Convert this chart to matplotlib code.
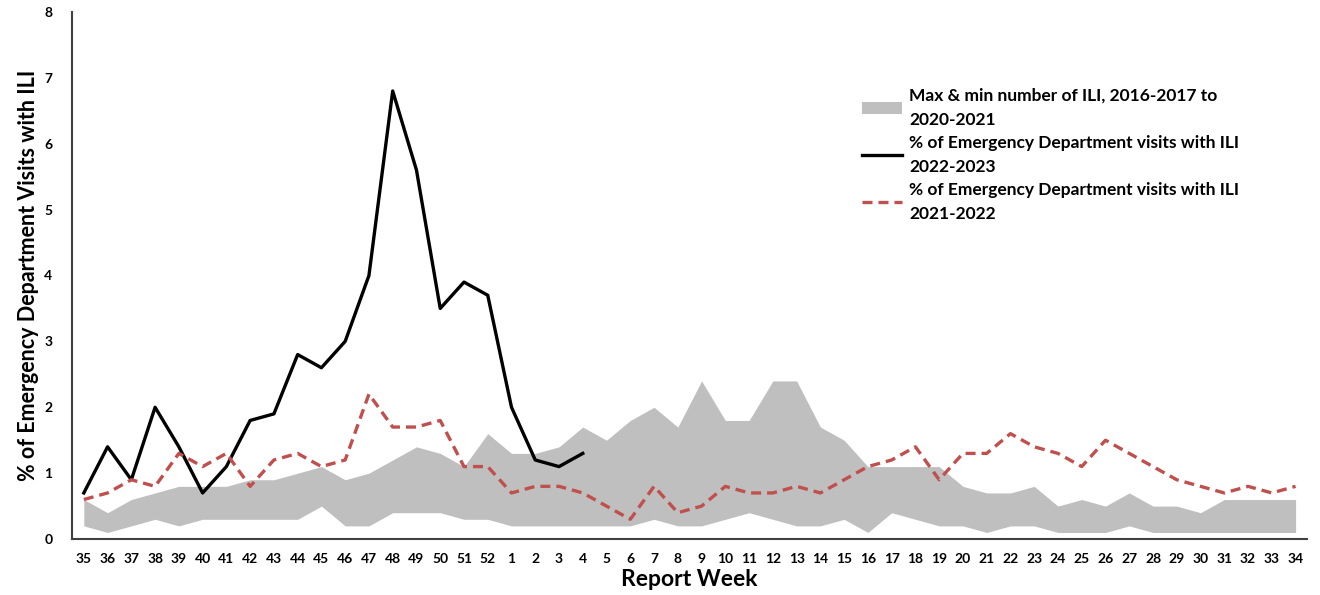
import numpy as np
import matplotlib.pyplot as plt

weeks = [str(w) for w in list(range(35, 53)) + list(range(1, 35))]

band_max = [0.6, 0.4, 0.6, 0.7, 0.8, 0.8, 0.8, 0.9, 0.9, 1.0, 1.1, 0.9, 1.0, 1.2, 1.4, 1.3, 1.1, 1.6,
            1.3, 1.3, 1.4, 1.7, 1.5, 1.8, 2.0, 1.7, 2.4, 1.8, 1.8, 2.4, 2.4, 1.7, 1.5, 1.1, 1.1, 1.1,
            1.1, 0.8, 0.7, 0.7, 0.8, 0.5, 0.6, 0.5, 0.7, 0.5, 0.5, 0.4, 0.6, 0.6, 0.6, 0.6]
band_min = [0.2, 0.1, 0.2, 0.3, 0.2, 0.3, 0.3, 0.3, 0.3, 0.3, 0.5, 0.2, 0.2, 0.4, 0.4, 0.4, 0.3, 0.3,
            0.2, 0.2, 0.2, 0.2, 0.2, 0.2, 0.3, 0.2, 0.2, 0.3, 0.4, 0.3, 0.2, 0.2, 0.3, 0.1, 0.4, 0.3,
            0.2, 0.2, 0.1, 0.2, 0.2, 0.1, 0.1, 0.1, 0.2, 0.1, 0.1, 0.1, 0.1, 0.1, 0.1, 0.1]
ili_2223 = [0.7, 1.4, 0.9, 2.0, 1.4, 0.7, 1.1, 1.8, 1.9, 2.8, 2.6, 3.0, 4.0, 6.8, 5.6, 3.5, 3.9, 3.7,
            2.0, 1.2, 1.1, 1.3]
ili_2122 = [0.6, 0.7, 0.9, 0.8, 1.3, 1.1, 1.3, 0.8, 1.2, 1.3, 1.1, 1.2, 2.2, 1.7, 1.7, 1.8, 1.1, 1.1,
            0.7, 0.8, 0.8, 0.7, 0.5, 0.3, 0.8, 0.4, 0.5, 0.8, 0.7, 0.7, 0.8, 0.7, 0.9, 1.1, 1.2, 1.4,
            0.9, 1.3, 1.3, 1.6, 1.4, 1.3, 1.1, 1.5, 1.3, 1.1, 0.9, 0.8, 0.7, 0.8, 0.7, 0.8]

plt.rcParams['font.family'] = ['Lato', 'DejaVu Sans']
plt.rcParams['font.weight'] = 'bold'

fig = plt.figure(figsize=(13.2, 5.95), dpi=100)
ax = fig.add_axes([0.0545, 0.094, 0.936, 0.886])

x = np.arange(len(weeks))
ax.fill_between(x, band_min, band_max, color='#bfbfbf', linewidth=0,
                label='Max & min number of ILI, 2016-2017 to\n2020-2021')
ax.plot(x[:len(ili_2223)], ili_2223, color='black', linewidth=2.4,
        label='% of Emergency Department visits with ILI\n2022-2023')
ax.plot(x, ili_2122, color='#c0504d', linewidth=2.4, linestyle=(0, (3, 1.8)),
        label='% of Emergency Department visits with ILI\n2021-2022')

ax.set_xlim(-0.5, len(weeks) - 0.5)
ax.set_ylim(0, 8)
ax.set_xticks(x)
ax.set_xticklabels(weeks)
ax.set_yticks(range(0, 9))
ax.tick_params(length=0, labelsize=10, pad=10)
ax.tick_params(axis='y', pad=14)
for s in ['top', 'right']:
    ax.spines[s].set_visible(False)
for s in ['left', 'bottom']:
    ax.spines[s].set_color('#404040')
    ax.spines[s].set_linewidth(1.5)

ax.set_xlabel('Report Week', fontsize=16.5, fontweight='bold', labelpad=3)
ax.set_ylabel('% of Emergency Department Visits with ILI', fontsize=15.5, fontweight='bold', labelpad=4)

leg = ax.legend(loc='upper left', bbox_to_anchor=(0.627, 0.886), frameon=False,
                fontsize=12.5, handlelength=2.3, labelspacing=0.4, handletextpad=0.4)
for t in leg.get_texts():
    t.set_linespacing(1.62)

fig.savefig('out.png', dpi=100)
